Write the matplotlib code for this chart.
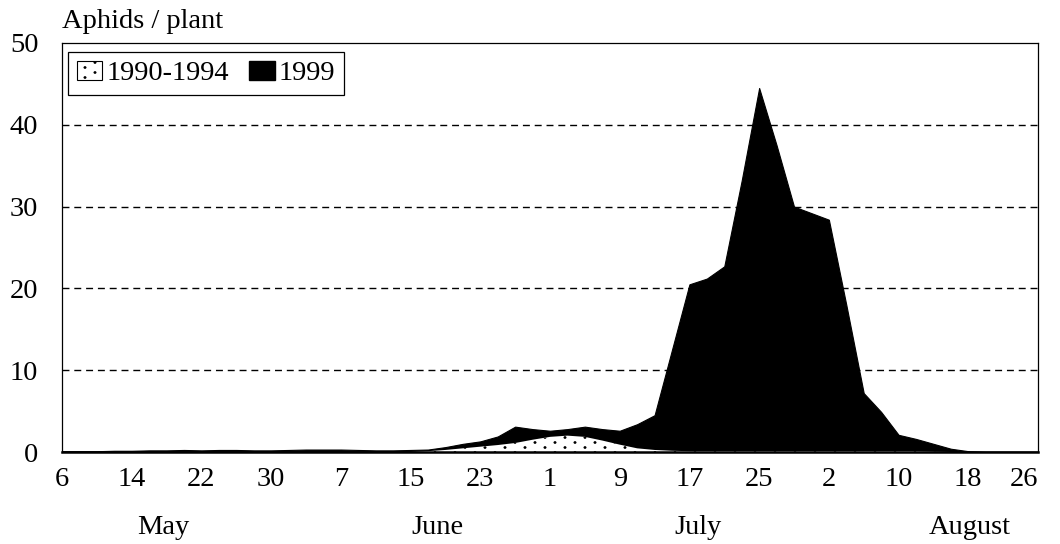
import matplotlib
matplotlib.use('Agg')
import matplotlib.pyplot as plt
import matplotlib.hatch as mhatch
from matplotlib.patches import Patch
from matplotlib.path import Path
import numpy as np

# days counted from 6 May, one sample every 2 days
days = list(range(0, 113, 2))

aphids_1999 = [0.1, 0.1, 0.1, 0.15, 0.15, 0.2, 0.2, 0.25, 0.2, 0.25,
               0.25, 0.2, 0.2, 0.25, 0.3, 0.3, 0.3, 0.25, 0.2, 0.2,
               0.25, 0.3, 0.6, 1.0, 1.3, 1.9, 3.1, 2.8, 2.6, 2.8,
               3.1, 2.8, 2.6, 3.4, 4.5, 12.5, 20.5, 21.2, 22.7, 33.2,
               44.5, 37.5, 30.0, 29.2, 28.4, 18.0, 7.2, 4.9, 2.1, 1.6,
               1.0, 0.4, 0.1, 0.05, 0.05, 0.05, 0.05]

aphids_9094 = [0, 0, 0, 0, 0, 0, 0, 0, 0, 0,
               0, 0, 0, 0, 0, 0, 0, 0, 0, 0,
               0, 0.1, 0.25, 0.45, 0.65, 0.85, 1.1, 1.5, 1.85, 2.0,
               1.85, 1.4, 0.9, 0.45, 0.25, 0.15, 0.1, 0.1, 0.1, 0.1,
               0.1, 0.1, 0.1, 0.1, 0.1, 0.1, 0.1, 0.1, 0.1, 0.1,
               0.05, 0, 0, 0, 0, 0, 0]

tick_days = list(range(0, 113, 8))
tick_labels = ['6', '14', '22', '30', '7', '15', '23', '1', '9', '17',
               '25', '2', '10', '18', '26']
months = ['May', 'June', 'July', 'August']
month_x = [163, 437, 698, 970]  # pixel centres of month names


# sparse staggered dot texture like the printed original
class SparseDots(mhatch.HatchPatternBase):
    n_cols = 5
    n_rows = 20
    radius = 0.012

    def __init__(self, hatch, density):
        circle = Path.unit_circle()
        self.shape_vertices = circle.vertices * self.radius
        self.shape_codes = circle.codes
        if '.' in hatch:
            self.num_vertices = self.n_cols * self.n_rows * len(self.shape_vertices)
        else:
            self.num_vertices = 0

    def set_vertices_and_codes(self, vertices, codes):
        vparts, cparts = [], []
        for r in range(self.n_rows):
            y = (r + 0.5) / self.n_rows
            for i in range(self.n_cols):
                x = (i + 0.25 + 0.5 * (r % 2)) / self.n_cols
                vparts.append(self.shape_vertices + [x, y])
                cparts.append(self.shape_codes)
        np.concatenate(vparts, out=vertices)
        np.concatenate(cparts, out=codes)


mhatch._hatch_types[:] = [h for h in mhatch._hatch_types
                          if h is not mhatch.SmallFilledCircles] + [SparseDots]

plt.rcParams['font.family'] = ['Liberation Serif', 'DejaVu Serif']
plt.rcParams['hatch.color'] = 'black'
plt.rcParams['hatch.linewidth'] = 0.3

FS = 20.5
W, H = 1060, 544
fig = plt.figure(figsize=(W / 100, H / 100), dpi=100)
ax = fig.add_axes([62 / W, 1 - 452 / H, (1038 - 62) / W, (452 - 43) / H])

ax.fill_between(days, 0, aphids_1999, facecolor='black', edgecolor='black',
                linewidth=0.8, zorder=2)
ax.fill_between(days, 0, aphids_9094, facecolor='white', edgecolor='black',
                hatch='.', linewidth=0, zorder=3)

ax.set_xlim(0, 112)
ax.set_ylim(0, 50)
ax.set_xticks(tick_days)
ax.set_xticklabels(tick_labels)
ax.set_yticks([0, 10, 20, 30, 40, 50])
ax.tick_params(axis='both', length=0, labelsize=FS)
ax.tick_params(axis='x', pad=11)
ax.tick_params(axis='y', pad=17)
for lab in ax.get_xticklabels():
    if lab.get_text() == '26':
        lab.set_horizontalalignment('right')

for y in [10, 20, 30, 40]:
    ax.axhline(y, color='black', linewidth=1.0, linestyle=(0, (5, 3.5)), zorder=1)

for s in ['left', 'right', 'top']:
    ax.spines[s].set_linewidth(0.9)
ax.spines['bottom'].set_linewidth(1.8)
ax.spines['bottom'].set_zorder(5)

fig.text(62 / W, 1 - 21 / H, 'Aphids / plant', fontsize=FS, ha='left', va='center')
for m, mx in zip(months, month_x):
    fig.text(mx / W, 1 - 528 / H, m, fontsize=FS, ha='center', va='center')

handles = [Patch(facecolor='white', edgecolor='black', hatch='.', linewidth=0.8),
           Patch(facecolor='black', edgecolor='black')]
leg = ax.legend(handles, ['1990-1994', '1999'], ncol=2, loc='upper left',
                bbox_to_anchor=(68 / W, 1 - 52 / H), bbox_transform=fig.transFigure,
                borderaxespad=0, fancybox=False, framealpha=1, edgecolor='black',
                fontsize=FS, handlelength=0.9, handleheight=0.7, handletextpad=0.15,
                columnspacing=0.7, borderpad=0.3)
leg.get_frame().set_linewidth(0.9)

fig.savefig('out.png', dpi=100)
